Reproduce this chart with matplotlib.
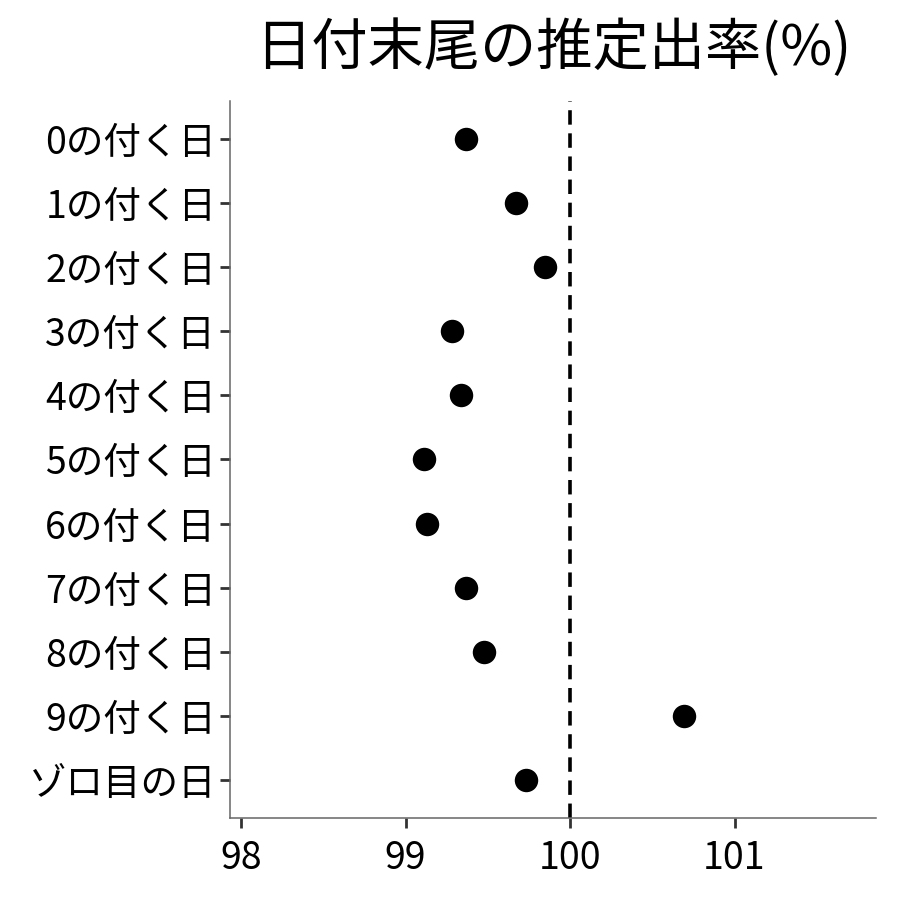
import matplotlib
matplotlib.use("Agg")
import matplotlib.pyplot as plt

plt.rcParams['font.family'] = ['Noto Sans CJK JP', 'DejaVu Sans']

labels = ["0の付く日", "1の付く日", "2の付く日", "3の付く日", "4の付く日",
          "5の付く日", "6の付く日", "7の付く日", "8の付く日", "9の付く日", "ゾロ目の日"]
rates = [99.37, 99.67, 99.85, 99.28, 99.34, 99.11, 99.13, 99.37, 99.48, 100.69, 99.73]
xticks = [98, 99, 100, 101]

fig = plt.figure(figsize=(9, 9), dpi=100)
ax = fig.add_axes([0.2556, 0.0911, 0.7177, 0.7967])

ypos = list(range(len(labels), 0, -1))
ax.scatter(rates, ypos, s=285, c='black', zorder=3, linewidths=0)
ax.axvline(100, color='black', lw=2.6, ls=(0, (4, 2.4)), zorder=2)

ax.set_xlim(97.933, 101.86)
ax.set_ylim(0.4, len(labels) + 0.6)
ax.set_xticks(xticks)
ax.set_xticklabels([str(t) for t in xticks])
ax.set_yticks(ypos)
ax.set_yticklabels(labels)

for s in ['top', 'right']:
    ax.spines[s].set_visible(False)
for s in ['left', 'bottom']:
    ax.spines[s].set_color('#666666')
    ax.spines[s].set_linewidth(1.1)
ax.tick_params(axis='both', length=7, width=2, color='#333333', labelsize=27, labelcolor='black')
ax.tick_params(axis='x', pad=8)
ax.tick_params(axis='y', pad=3)

ax.set_title("日付末尾の推定出率(%)", fontsize=40.5, pad=26)

fig.savefig("out.png", dpi=100)
